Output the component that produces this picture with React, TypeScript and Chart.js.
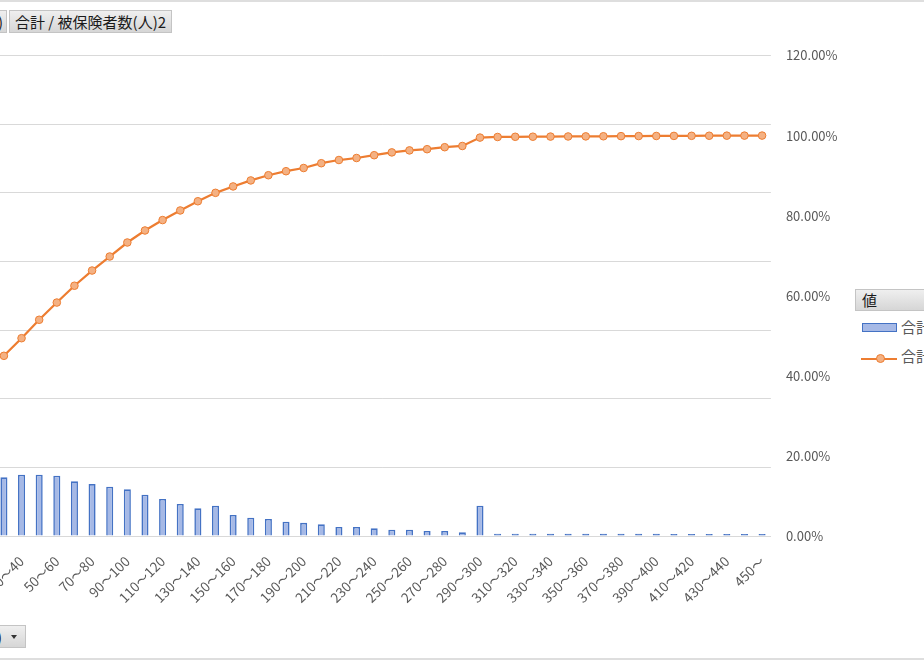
import React, { useEffect, useRef } from "react";
import { Chart, registerables } from "chart.js";

Chart.register(...registerables);

// Category bins (visible part of the pivot chart)
const categories: string[] = [
  "20～30", "30～40", "40～50", "50～60", "60～70", "70～80", "80～90", "90～100",
  "100～110", "110～120", "120～130", "130～140", "140～150", "150～160", "160～170",
  "170～180", "180～190", "190～200", "200～210", "210～220", "220～230", "230～240",
  "240～250", "250～260", "260～270", "270～280", "280～290", "290～300", "300～310",
  "310～320", "320～330", "330～340", "340～350", "350～360", "360～370", "370～380",
  "380～390", "390～400", "400～410", "410～420", "420～430", "430～440", "440～450",
  "450～",
];

// 合計 / 被保険者数(人)  (bars, left axis)
const insuredCounts: number[] = [
  855, 893, 893, 878, 796, 757, 718, 680, 601, 539, 466, 403, 441, 306, 266, 248,
  208, 192, 170, 131, 131, 112, 92, 92, 73, 73, 54, 441,
  34, 33, 33, 32, 32, 32, 31, 31, 31, 31, 30, 30, 30, 30, 30, 30,
];

// 合計 / 被保険者数(人)2  (cumulative %, right axis)
const cumulativePct: number[] = [
  45.0, 49.4, 54.0, 58.3, 62.5, 66.3, 69.8, 73.3, 76.3, 78.9, 81.3, 83.6, 85.7, 87.3,
  88.8, 90.1, 91.1, 91.9, 93.1, 93.9, 94.4, 95.1, 95.8, 96.3, 96.6, 97.1, 97.4, 99.5,
  99.65, 99.7, 99.72, 99.75, 99.78, 99.8, 99.83, 99.86, 99.88, 99.9, 99.92, 99.94,
  99.96, 99.98, 99.99, 100.0,
];

const seriesBarName = "合計 / 被保険者数(人)";
const seriesLineName = "合計 / 被保険者数(人)2";
const legendTitle = "値";
const categoryFieldName = "報酬月額(万円)";

const countAxisMax = 7000;
const countAxisStep = 1000;
const pctAxisMax = 120;
const pctAxisStep = 20;

const FONT = "'Noto Sans CJK JP', 'Liberation Sans', sans-serif";
const TEXT = "#595959";
const BAR_FILL = "#a6b9e6";
const BAR_EDGE = "#4472c4";

const btnStyle: React.CSSProperties = {
  position: "absolute",
  boxSizing: "border-box",
  height: 23,
  border: "1px solid #c4c4c4",
  background: "linear-gradient(#efefef, #d6d6d6)",
  fontSize: 15,
  lineHeight: "21px",
  color: "#1a1a1a",
  whiteSpace: "nowrap",
  overflow: "hidden",
};

export default function App() {
  const ref = useRef<HTMLCanvasElement>(null);

  useEffect(() => {
    const canvas = ref.current!;
    const chart = new Chart(canvas, {
      data: {
        labels: categories,
        datasets: [
          {
            type: "line",
            label: seriesLineName,
            data: cumulativePct,
            yAxisID: "y1",
            order: 0,
            borderColor: "#ed7d31",
            borderWidth: 2.25,
            pointRadius: 3.8,
            pointBackgroundColor: "#f4b183",
            pointBorderColor: "#ed7d31",
            pointBorderWidth: 1,
            tension: 0,
          },
          {
            type: "bar",
            label: seriesBarName,
            data: insuredCounts,
            yAxisID: "y",
            order: 1,
            // very short bars are almost all outline in the original
            backgroundColor: (ctx: any) =>
              insuredCounts[ctx.dataIndex] < 50 ? BAR_EDGE : BAR_FILL,
            borderColor: BAR_EDGE,
            borderWidth: 1.6,
            barPercentage: 0.4,
            categoryPercentage: 1,
          },
        ],
      } as any,
      options: {
        responsive: false,
        animation: false,
        devicePixelRatio: 1,
        layout: { padding: { top: 55.5, left: 0, right: 0, bottom: 0 } },
        plugins: { legend: { display: false }, tooltip: { enabled: false } },
        scales: {
          x: {
            type: "category",
            offset: true,
            grid: { display: false, drawTicks: false },
            border: { display: true, color: "#d9d9d9" },
            ticks: {
              autoSkip: false,
              minRotation: 45,
              maxRotation: 45,
              padding: 17,
              color: TEXT,
              font: { family: FONT, size: 13.5 },
              callback: (_v: any, i: number) => (i % 2 === 1 ? categories[i] : ""),
            },
            afterFit: (s: any) => {
              s.height = 104;
            },
          },
          y: {
            position: "left",
            min: 0,
            max: countAxisMax,
            ticks: { stepSize: countAxisStep, display: false },
            grid: { color: "#d9d9d9", drawTicks: false },
            border: { display: false },
            afterFit: (s: any) => {
              s.width = 35.1;
            },
          },
          y1: {
            position: "right",
            min: 0,
            max: pctAxisMax,
            ticks: {
              stepSize: pctAxisStep,
              padding: 15,
              color: TEXT,
              font: { family: FONT, size: 13 },
              callback: (v: any) => Number(v).toFixed(2) + "%",
            },
            grid: { display: false, drawTicks: false },
            border: { display: false },
            afterFit: (s: any) => {
              s.width = 79.1;
            },
          },
        },
      } as any,
    });
    return () => chart.destroy();
  }, []);

  return (
    <div
      style={{
        position: "fixed",
        left: 0,
        top: 0,
        width: 924,
        height: 660,
        overflow: "hidden",
        background: "#fff",
        fontFamily: FONT,
      }}
    >
      <canvas
        ref={ref}
        width={890}
        height={640}
        style={{ position: "absolute", left: -40, top: 0, width: 890, height: 640 }}
      />
      {/* chart frame lines */}
      <div style={{ position: "absolute", left: 0, top: 0, width: 924, height: 2, background: "#dedede" }} />
      <div style={{ position: "absolute", left: 0, top: 658, width: 924, height: 2, background: "#dedede" }} />

      {/* value field buttons */}
      <div style={{ ...btnStyle, left: -160, top: 10, width: 167, textAlign: "right", paddingRight: 3 }}>
        {seriesBarName}
      </div>
      <div style={{ ...btnStyle, left: 9, top: 10, width: 163, paddingLeft: 5 }}>{seriesLineName}</div>

      {/* axis field button */}
      <div style={{ ...btnStyle, left: -100, top: 625, width: 126 }}>
        <span style={{ position: "absolute", right: 23, top: 0 }}>{categoryFieldName}</span>
        <div
          style={{
            position: "absolute",
            left: 110,
            top: 9,
            width: 0,
            height: 0,
            borderLeft: "3.5px solid transparent",
            borderRight: "3.5px solid transparent",
            borderTop: "4px solid #333",
          }}
        />
      </div>

      {/* legend */}
      <div style={{ ...btnStyle, left: 855, top: 289, width: 90, height: 22, paddingLeft: 6, lineHeight: "20px" }}>
        {legendTitle}
      </div>
      <div
        style={{
          position: "absolute",
          left: 862,
          top: 323,
          width: 35,
          height: 9,
          boxSizing: "border-box",
          background: BAR_FILL,
          border: "1.5px solid " + BAR_EDGE,
        }}
      />
      <div style={{ position: "absolute", left: 901, top: 317, fontSize: 15, color: TEXT, whiteSpace: "nowrap", lineHeight: "20px" }}>
        {seriesBarName}
      </div>
      <div style={{ position: "absolute", left: 861, top: 357.6, width: 36, height: 2.2, background: "#ed7d31" }} />
      <div
        style={{
          position: "absolute",
          left: 875.5,
          top: 354.2,
          width: 9,
          height: 9,
          boxSizing: "border-box",
          borderRadius: "50%",
          background: "#f4b183",
          border: "1px solid #ed7d31",
        }}
      />
      <div style={{ position: "absolute", left: 901, top: 346, fontSize: 15, color: TEXT, whiteSpace: "nowrap", lineHeight: "20px" }}>
        {seriesLineName}
      </div>
    </div>
  );
}
